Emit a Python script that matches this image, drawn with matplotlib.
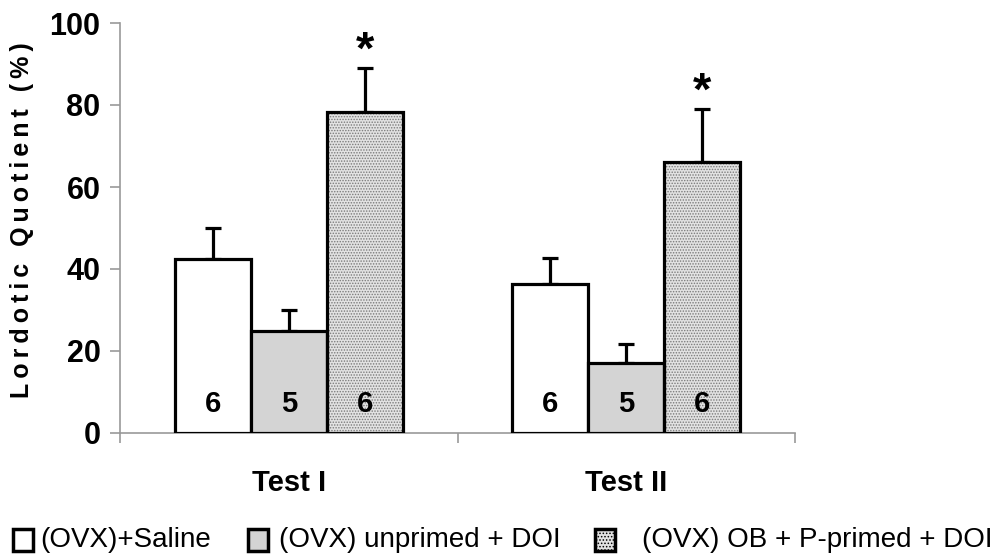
import matplotlib
matplotlib.use("Agg")
import matplotlib.pyplot as plt
from matplotlib.patches import Rectangle

plt.rcParams["font.family"] = ["Liberation Sans", "DejaVu Sans"]
plt.rcParams["hatch.linewidth"] = 0.7

# ---- data ----
tests = ["Test I", "Test II"]
groups = ["(OVX)+Saline", "(OVX) unprimed + DOI", "(OVX) OB + P-primed + DOI"]
saline = [42.5, 36.3]
unprimed = [25.0, 17.0]
primed = [78.3, 66.0]
saline_err = [7.5, 6.3]
unprimed_err = [5.0, 4.6]
primed_err = [10.8, 13.0]
n_labels = [["6", "6"], ["5", "5"], ["6", "6"]]
signif = [True, True]

fig = plt.figure(figsize=(9.97, 5.57), dpi=100)
ax = fig.add_axes([120/997, 1-433/557, 675/997, 410/557])

w = 0.225
centers = [0.5, 1.5]
means = [saline, unprimed, primed]
errs = [saline_err, unprimed_err, primed_err]
faces = ["white", "#d4d4d4", "#e2e2e2"]
for k in range(3):
    xs = [c + (k - 1) * w for c in centers]
    if k == 2:
        ax.bar(xs, means[k], w, color=faces[k], edgecolor="#7a7a7a", hatch="......", lw=0, zorder=2)
        ax.bar(xs, means[k], w, fill=False, edgecolor="black", lw=2.3, zorder=3)
    else:
        ax.bar(xs, means[k], w, color=faces[k], edgecolor="black", lw=2.3, zorder=3)
    ax.errorbar(xs, means[k], yerr=[[0, 0], errs[k]], fmt="none", ecolor="black",
                elinewidth=2.3, capsize=6, capthick=2.3, zorder=1, clip_on=False)
    for x, t in zip(xs, n_labels[k]):
        ax.text(x, 7, t, ha="center", va="center", fontsize=21, fontweight="bold", zorder=4)
    if k == 2:
        for x, m, e, s in zip(xs, means[k], errs[k], signif):
            if s:
                ax.text(x, m + e + 4.0, "*", ha="center", va="center", fontsize=34,
                        fontweight="bold", clip_on=False)

ax.set_xlim(0, 2)
ax.set_ylim(0, 100)
ax.set_yticks(range(0, 101, 20))
ax.set_yticklabels([str(v) for v in range(0, 101, 20)], fontsize=22, fontweight="bold")
ax.set_xticks(centers)
ax.set_xticklabels(tests, fontsize=21, fontweight="bold")
ax.set_xticks([0, 1, 2], minor=True)
ax.tick_params(axis="x", which="major", length=0, pad=26)
ax.tick_params(axis="x", which="minor", length=7, width=1.2, color="#999999", direction="out")
ax.tick_params(axis="y", length=7, width=1.2, color="#999999", pad=7)
for s in ("top", "right"):
    ax.spines[s].set_visible(False)
for s in ("left", "bottom"):
    ax.spines[s].set_color("#999999")
    ax.spines[s].set_linewidth(1.2)

ylab = "\u2009".join("Lordotic Quotient (%)")
fig.text(22/997, 1-220/557, ylab, rotation=90, ha="center", va="center",
         fontsize=18, fontweight="bold")

# ---- legend drawn by hand at bottom ----
leg_x = [(13, 40), (248, 279), (595, 642)]
for (mx, tx), face, lab, k in zip(leg_x, faces, groups, range(3)):
    r = Rectangle((mx/997, 1-551/557), 20/997, 22/557, transform=fig.transFigure,
                  facecolor=face, edgecolor="black", lw=2.5, hatch="....." if k == 2 else None)
    fig.add_artist(r)
    fig.text(tx/997, 1-540/557, lab, ha="left", va="center", fontsize=20)

fig.savefig("out.png", dpi=100)
